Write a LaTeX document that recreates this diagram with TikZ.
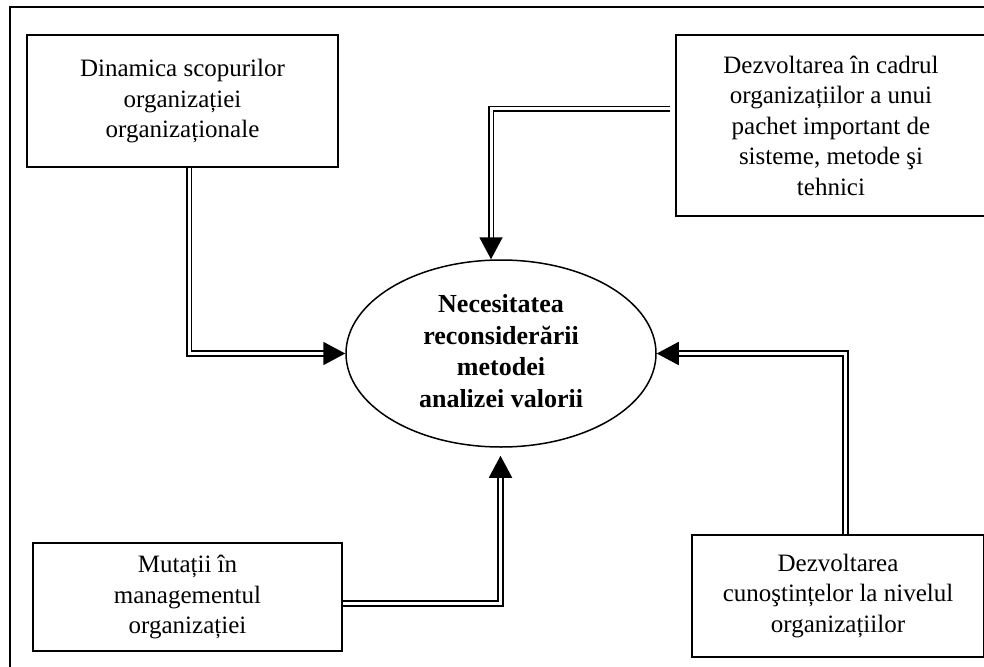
\documentclass[tikz,border=0pt]{standalone}
\usepackage{fontspec}
\setmainfont{Liberation Serif}
\usetikzlibrary{arrows.meta,shapes.geometric}
\begin{document}
\begin{tikzpicture}[x=1pt,y=-1pt,
  box/.style={draw, line width=1.5pt, rectangle, align=center, inner sep=0pt,
    font=\fontsize{25}{30.5}\selectfont},
  oval/.style={draw, line width=1.5pt, ellipse, align=center, inner sep=0pt,
    font=\bfseries\fontsize{26}{31.5}\selectfont},
  conn/.style={line width=1.9pt, double distance=3pt, draw=black, double=white,
    -{Triangle[length=22pt,width=23pt]}}
]
\useasboundingbox (0,0) rectangle (984,666);
\clip (0,0) rectangle (984,666);
\fill[white] (0,0) rectangle (984,666);
\draw[line width=1.7pt] (10,7) rectangle (1000,700);

\node[box, minimum width=311pt, minimum height=132pt] (b1) at (182.5,101)
  {\raisebox{8pt}{\begin{tabular}{@{}c@{}}Dinamica scopurilor\\organizației\\organizaționale\end{tabular}}};
\node[box, minimum width=310pt, minimum height=181pt] (b2) at (831,125.5)
  {Dezvoltarea în cadrul\\organizațiilor a unui\\pachet important de\\sisteme, metode şi\\tehnici};
\node[box, minimum width=309pt, minimum height=108pt] (b3) at (187.5,597)
  {Mutații în\\managementul\\organizației};
\node[box, minimum width=292pt, minimum height=122pt] (b4) at (838,596)
  {Dezvoltarea\\cunoştințelor la nivelul\\organizațiilor};
\node[oval, minimum width=310pt, minimum height=187pt] (e) at (501,353.5)
  {\raisebox{-5pt}{\begin{tabular}{@{}c@{}}Necesitatea\\reconsiderării\\metodei\\analizei valorii\end{tabular}}};

\draw[conn] (b1.south -| 189,0) |- (e.west);
\draw[conn, shorten <=5pt] (b2.west |- 0,109) -| (e.north -| 491,0);
\draw[conn] (b4.north -| 845.5,0) |- (e.east);
\draw[conn, shorten >=8pt] (b3.east |- 0,603.5) -| (e.south -| 500.5,0);
\end{tikzpicture}
\end{document}
